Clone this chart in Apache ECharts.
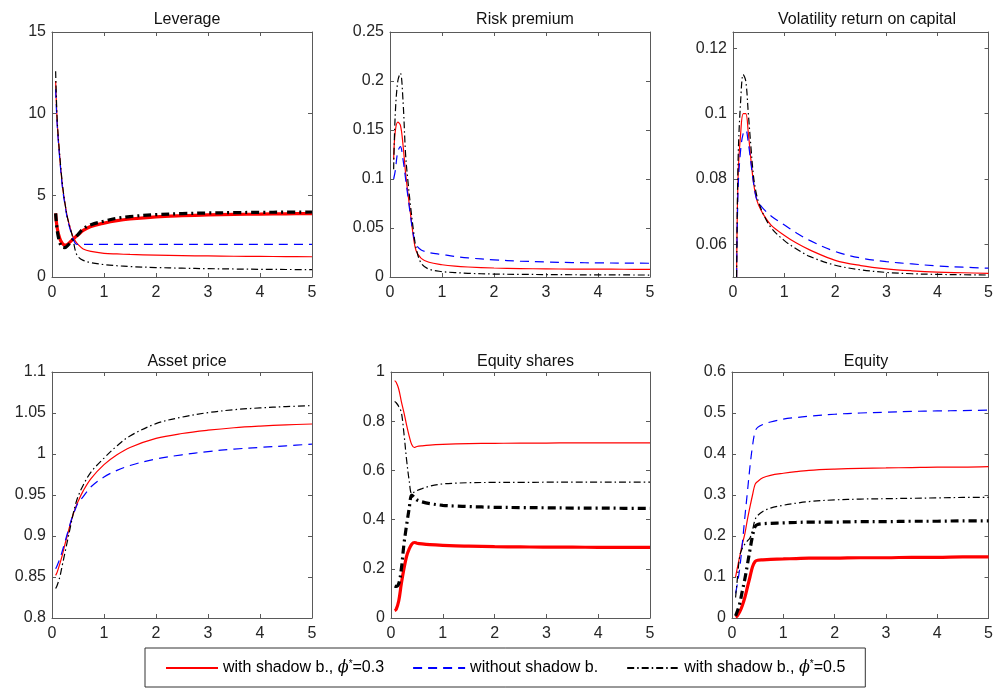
<!DOCTYPE html>
<html><head><meta charset="utf-8">
<script src="https://cdn.jsdelivr.net/npm/echarts@6/dist/echarts.min.js"></script>
<style>html,body{margin:0;padding:0;background:#fff}#c{width:996px;height:690px}</style>
</head><body><div id="c"></div>
<script>
// ---- data ----
const X = [0.07,0.1,0.15,0.2,0.25,0.3,0.35,0.4,0.45,0.5,0.6,0.75,1,1.25,1.5,2,2.5,3,3.5,4,4.5,5];

const titles = ['Leverage','Risk premium','Volatility return on capital','Asset price','Equity shares','Equity'];
const legendNames = ['with shadow b., ϕ*=0.3','without shadow b.','with shadow b., ϕ*=0.5'];

const yMin = [0, 0, 0.05, 0.8, 0, 0];
const yMax = [15, 0.25, 0.125, 1.1, 1, 0.6];
const yInterval = [5, 0.05, 0.02, 0.05, 0.2, 0.1];
const volTicks = [0.06, 0.08, 0.1, 0.12];

// Leverage
const levRed      = [12.0,9.5,7.3,5.6,4.5,3.6,3.0,2.5,2.2,2.0,1.72,1.57,1.45,1.41,1.38,1.34,1.31,1.29,1.27,1.26,1.25,1.24];
const levBlue     = [11.5,9.3,7.2,5.5,4.4,3.5,2.9,2.4,2.05,2.0,2.0,2.0,2.0,2.0,2.0,2.0,2.0,2.0,2.0,2.0,2.0,2.0];
const levBlack    = [12.6,9.6,7.4,5.7,4.5,3.6,3.0,2.4,1.6,1.25,1.02,0.88,0.76,0.69,0.64,0.58,0.54,0.51,0.49,0.47,0.46,0.45];
const levRedBold  = [3.9,3.0,2.35,2.05,1.95,2.0,2.15,2.3,2.45,2.58,2.85,3.1,3.3,3.45,3.55,3.68,3.75,3.8,3.83,3.85,3.87,3.88];
const levBlackBold= [3.9,2.85,2.1,1.82,1.8,1.92,2.1,2.3,2.45,2.6,2.95,3.2,3.42,3.6,3.7,3.82,3.88,3.92,3.94,3.96,3.97,3.98];

// Risk premium
const rpRed   = [0.12,0.148,0.158,0.155,0.135,0.106,0.083,0.062,0.041,0.027,0.019,0.015,0.0125,0.011,0.0102,0.0092,0.0086,0.0083,0.0081,0.008,0.0079,0.0078];
const rpBlue  = [0.1,0.108,0.128,0.133,0.12,0.1,0.08,0.06,0.043,0.033,0.0276,0.025,0.023,0.021,0.0195,0.0175,0.0162,0.0153,0.0147,0.0144,0.0142,0.014];
const rpBlack = [0.11,0.165,0.2,0.208,0.18,0.125,0.095,0.07,0.048,0.03,0.014,0.008,0.0055,0.0045,0.0038,0.003,0.0027,0.0025,0.0023,0.0022,0.0021,0.002];

// Volatility return on capital
const volRed   = [0.05,0.081,0.094,0.1,0.1,0.094,0.086,0.079,0.0745,0.072,0.069,0.0658,0.0628,0.0603,0.0583,0.0551,0.0535,0.0525,0.0519,0.0515,0.0513,0.0511];
const volBlue  = [0.05,0.077,0.089,0.094,0.095,0.091,0.085,0.079,0.0745,0.0728,0.0708,0.0686,0.066,0.0634,0.0612,0.0578,0.0558,0.0547,0.054,0.0534,0.053,0.0527];
const volBlack = [0.05,0.086,0.104,0.112,0.11,0.1,0.09,0.081,0.076,0.073,0.069,0.065,0.0612,0.0585,0.0563,0.0536,0.0522,0.0514,0.051,0.0508,0.0507,0.0506];

// Asset price
const apRed   = [0.852,0.856,0.866,0.877,0.89,0.902,0.914,0.925,0.934,0.942,0.955,0.97,0.987,0.999,1.008,1.019,1.025,1.029,1.032,1.034,1.0355,1.0366];
const apBlue  = [0.86,0.864,0.872,0.882,0.893,0.904,0.915,0.925,0.933,0.94,0.948,0.96,0.972,0.98,0.986,0.994,0.999,1.003,1.006,1.008,1.010,1.012];
const apBlack = [0.836,0.84,0.85,0.865,0.88,0.895,0.91,0.925,0.938,0.948,0.962,0.978,0.995,1.01,1.022,1.037,1.045,1.0505,1.054,1.0562,1.0578,1.059];

// Equity shares
const esRed       = [0.965,0.958,0.93,0.88,0.835,0.785,0.74,0.705,0.693,0.697,0.7,0.703,0.706,0.708,0.709,0.71,0.711,0.711,0.712,0.712,0.712,0.712];
const esBlack     = [0.88,0.875,0.86,0.835,0.75,0.645,0.56,0.505,0.512,0.518,0.526,0.536,0.545,0.548,0.55,0.551,0.551,0.552,0.552,0.552,0.552,0.552];
const esRedBold   = [0.03,0.035,0.07,0.14,0.2,0.25,0.28,0.3,0.307,0.304,0.301,0.298,0.295,0.293,0.292,0.29,0.289,0.288,0.288,0.287,0.287,0.287];
const esBlackBold = [0.13,0.128,0.14,0.2,0.3,0.376,0.444,0.5,0.49,0.48,0.472,0.465,0.458,0.455,0.453,0.45,0.449,0.448,0.447,0.447,0.446,0.446];

// Equity
const eqRed       = [0.1,0.12,0.15,0.18,0.205,0.24,0.271,0.3,0.326,0.333,0.342,0.348,0.353,0.357,0.36,0.363,0.365,0.366,0.367,0.368,0.368,0.369];
const eqBlue      = [0.06,0.08,0.12,0.18,0.245,0.307,0.369,0.42,0.455,0.465,0.472,0.478,0.485,0.489,0.492,0.497,0.5,0.502,0.504,0.505,0.506,0.507];
const eqBlack     = [0.05,0.09,0.15,0.17,0.18,0.188,0.195,0.215,0.24,0.25,0.26,0.268,0.275,0.28,0.284,0.288,0.29,0.291,0.292,0.293,0.294,0.294];
const eqRedBold   = [0.002,0.005,0.015,0.03,0.05,0.075,0.1,0.125,0.138,0.141,0.142,0.143,0.144,0.145,0.146,0.146,0.147,0.147,0.148,0.148,0.149,0.149];
const eqBlackBold = [0.005,0.015,0.035,0.065,0.095,0.13,0.166,0.2,0.223,0.228,0.23,0.231,0.232,0.233,0.234,0.234,0.235,0.235,0.236,0.236,0.237,0.237];

// ---- styles & layout ----
const S = {
  redThin:   {color:'#ff0000', width:1.2, type:'solid'},
  redBold:   {color:'#ff0000', width:3.2, type:'solid'},
  blue:      {color:'#0000ff', width:1.2, type:[9,6]},
  black:     {color:'#000000', width:1.2, type:[7,3,1.5,3]},
  blackBold: {color:'#000000', width:3.2, type:[8,4,2,4]}
};
const panels = [
  [[levRedBold,'redBold'],[levBlackBold,'blackBold'],[levRed,'redThin'],[levBlue,'blue'],[levBlack,'black']],
  [[rpRed,'redThin'],[rpBlue,'blue'],[rpBlack,'black']],
  [[volRed,'redThin'],[volBlue,'blue'],[volBlack,'black']],
  [[apRed,'redThin'],[apBlue,'blue'],[apBlack,'black']],
  [[esRed,'redThin'],[esBlack,'black'],[esRedBold,'redBold'],[esBlackBold,'blackBold']],
  [[eqRed,'redThin'],[eqBlue,'blue'],[eqBlack,'black'],[eqRedBold,'redBold'],[eqBlackBold,'blackBold']]
];
const nameFor = {redThin:legendNames[0], blue:legendNames[1], black:legendNames[2], redBold:'bold1', blackBold:'bold2'};

const grids = [
  {left:52, top:32, width:260, height:245},
  {left:390, top:32, width:260, height:245},
  {left:733, top:32, width:258, height:245},
  {left:52, top:372, width:260, height:246},
  {left:391, top:372, width:259, height:246},
  {left:732, top:372, width:258, height:246}
];
const FONT = 'Liberation Sans, Arial, sans-serif';
const AX = '#5a5a5a';
const LBL = '#262626';

const option = {
  animation:false,
  backgroundColor:'#fff',
  title: titles.map((t,i)=>({
    text:t, left: grids[i].left + grids[i].width/2, top: i<3 ? 7 : 349, textAlign:'center',
    textStyle:{fontSize:16, fontWeight:'normal', color:'#111', fontFamily:FONT}
  })),
  grid: grids.map(g=>Object.assign({containLabel:false}, g)),
  xAxis: [], yAxis: [], series: [],
  legend: {
    data: legendNames, left:145, top:648, itemWidth:52, itemHeight:14, itemGap:28,
    padding:[11,20], borderColor:'#333', borderWidth:1, backgroundColor:'#fff',
    itemStyle:{color:'rgba(0,0,0,0)', borderWidth:0, opacity:0},
    textStyle:{fontSize:16, color:'#000', fontFamily:FONT,
      rich:{i:{fontSize:16, fontStyle:'italic', fontFamily:'DejaVu Serif, serif', color:'#000'},
            s:{fontSize:10, color:'#000', verticalAlign:'top', padding:[0,0,8,0]}}},
    formatter: n => n.replace('ϕ*', '{i|ϕ}{s|*}')
  }
};

grids.forEach((g,i)=>{
  const base = {gridIndex:i, type:'value', splitLine:{show:false},
    axisLine:{show:true, onZero:false, lineStyle:{color:AX, width:1}},
    axisTick:{show:true, inside:true, length:4, lineStyle:{color:AX}}};
  option.xAxis.push(Object.assign({}, base, {position:'bottom', min:0, max:5, interval:1,
    axisLabel:{fontSize:16, color:LBL, fontFamily:FONT, margin:8}}));
  option.xAxis.push(Object.assign({}, base, {position:'top', min:0, max:5, interval:1, axisLabel:{show:false}}));
  const yb = {min:yMin[i], max:yMax[i], interval:yInterval[i]};
  let ylab = {fontSize:16, color:LBL, fontFamily:FONT, margin:6};
  let ytick = {show:true, inside:true, length:4, lineStyle:{color:AX}};
  if (i===2) {
    delete yb.interval;
    ylab = Object.assign({}, ylab, {customValues: volTicks});
    ytick = Object.assign({}, ytick, {customValues: volTicks});
  }
  option.yAxis.push(Object.assign({}, base, yb, {position:'left', axisLabel:ylab, axisTick:ytick}));
  option.yAxis.push(Object.assign({}, base, yb, {position:'right', axisLabel:{show:false}, axisTick:Object.assign({}, ytick)}));
  panels[i].forEach(([arr, st])=>{
    option.series.push({
      type:'line', name:nameFor[st], xAxisIndex:2*i, yAxisIndex:2*i,
      data: X.map((x,k)=>[x, arr[k]]), symbol:'none', showSymbol:false,
      smooth:0.35, lineStyle:Object.assign({}, S[st]), itemStyle:{color:S[st].color},
      z: st.indexOf('Bold')>=0 ? 2 : 3
    });
  });
});

const chart = echarts.init(document.getElementById('c'), null, {renderer:'canvas'});
chart.setOption(option);
</script></body></html>
